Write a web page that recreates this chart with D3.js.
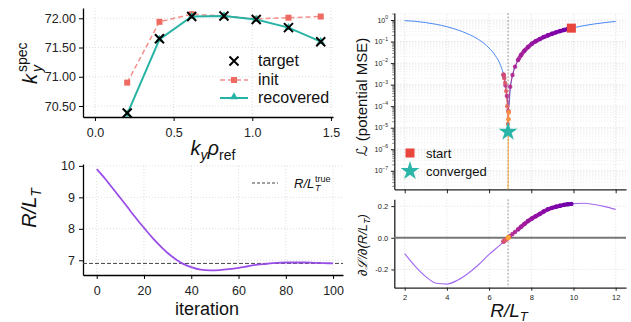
<!DOCTYPE html>
<html>
<head>
<meta charset="utf-8">
<script src="https://cdn.jsdelivr.net/npm/d3@7"></script>
<style>
  body { margin: 0; background: #fff; }
  text { font-family: "Liberation Sans", Arial, sans-serif; }
</style>
</head>
<body>
<svg id="fig" width="631" height="322"></svg>
<script>
// ---- top-left: spectrum fit ----
const kyRho = [0.205, 0.41, 0.615, 0.82, 1.025, 1.23, 1.435];
const kyTarget = [70.38, 71.65, 72.03, 72.04, 71.98, 71.84, 71.60];
const kyInit = [70.90, 71.94, 72.07, 72.04, 71.99, 72.01, 72.03];
const kyRecovered = [70.36, 71.64, 72.03, 72.04, 71.98, 71.84, 71.60];

// ---- optimisation trajectory ----
const iters = [0, 2, 4, 6, 8, 10, 12, 14, 16, 18, 20, 22, 24, 26, 28, 30, 32, 34, 36, 38, 40,
  44, 48, 52, 56, 60, 64, 68, 72, 76, 80, 84, 88, 92, 96, 100];
const rlt = [9.90, 9.73, 9.55, 9.36, 9.17, 8.98, 8.79, 8.59, 8.40, 8.21, 8.03, 7.85, 7.68, 7.52, 7.37,
  7.23, 7.11, 7.00, 6.91, 6.84, 6.78, 6.70, 6.68, 6.69, 6.72, 6.76, 6.81, 6.86, 6.89, 6.92,
  6.93, 6.93, 6.93, 6.92, 6.91, 6.90];
const trajLoss = [0.42, 0.385, 0.345, 0.305, 0.268, 0.23, 0.195, 0.162, 0.13, 0.103, 0.08, 0.056,
  0.038, 0.024, 0.0138, 0.0068, 0.0028, 0.0008, 0.00006, 0.0003, 0.0009, 0.0025, 0.003, 0.0028,
  0.002, 0.0012, 0.0005, 0.0001, 0.000015, 0.000025, 0.000056, 0.000056, 0.00005, 0.000025,
  0.000006, 1e-9];
const trajGrad = [0.214, 0.212, 0.208, 0.202, 0.196, 0.189, 0.18, 0.166, 0.15, 0.136, 0.122, 0.106,
  0.088, 0.07, 0.053, 0.037, 0.024, 0.011, 0.001, -0.007, -0.013, -0.022, -0.024, -0.023, -0.02,
  -0.015, -0.01, -0.004, -0.001, 0.002, 0.003, 0.003, 0.003, 0.002, 0.001, 0];
const rltTrue = 6.9;
const startPt = { x: 9.9, loss: 0.42 };
const convergedPt = { x: 6.9, loss: 0.0000065 };

// ---- loss landscape scan ----
const scanX = [2.0, 2.5, 3.0, 3.5, 4.0, 4.5, 5.0, 5.5, 6.0, 6.3, 6.5, 6.6, 6.7, 6.8, 6.85, 6.94,
  7.0, 7.1, 7.2, 7.3, 7.5, 7.75, 8.0, 8.5, 9.0, 9.5, 10.0, 10.5, 11.0, 11.5, 12.0];
const scanLoss = [0.94, 0.87, 0.76, 0.63, 0.49, 0.35, 0.225, 0.125, 0.05, 0.022, 0.01, 0.0056,
  0.0025, 0.0007, 0.0003, 0.0001, 0.0006, 0.0025, 0.0056, 0.01, 0.0225, 0.045, 0.076, 0.146,
  0.234, 0.334, 0.44, 0.55, 0.66, 0.76, 0.86];
const gradX = [2, 2.5, 3, 3.5, 4, 4.5, 5, 5.5, 6, 6.5, 7, 7.5, 8, 8.5, 9, 9.5, 10, 10.5, 11, 11.5, 12];
const gradVal = [-0.10, -0.18, -0.245, -0.287, -0.292, -0.268, -0.225, -0.17, -0.105, -0.048, 0.011,
  0.068, 0.12, 0.16, 0.19, 0.207, 0.216, 0.218, 0.21, 0.197, 0.179];

const MATH = '"DejaVu Sans", sans-serif';
const svg = d3.select('#fig');

function styleAxis(g, size, color) {
  g.attr('font-family', '"Liberation Sans", Arial, sans-serif').attr('font-size', size);
  g.select('.domain').attr('stroke', color).attr('stroke-width', 1.3);
  g.selectAll('.tick line').attr('stroke', color);
  g.selectAll('.tick text').attr('fill', '#222');
}

function drawGrid(g, x, y, xt, yt, color) {
  g.selectAll(null).data(xt).enter().append('line')
    .attr('x1', d => x(d)).attr('x2', d => x(d))
    .attr('y1', y.range()[0]).attr('y2', y.range()[1])
    .attr('stroke', color || '#d6d6d6').attr('stroke-width', 0.8).attr('stroke-dasharray', '1,2');
  g.selectAll(null).data(yt).enter().append('line')
    .attr('y1', d => y(d)).attr('y2', d => y(d))
    .attr('x1', x.range()[0]).attr('x2', x.range()[1])
    .attr('stroke', color || '#d6d6d6').attr('stroke-width', 0.8).attr('stroke-dasharray', '1,2');
}

// =============== panel A ===============
const xA = d3.scaleLinear([-0.076, 1.513], [83, 333]);
const yA = d3.scaleLinear([70.312, 72.176], [117, 8]);
const gA = svg.append('g');
drawGrid(gA, xA, yA, [0, 0.5, 1, 1.5], [70.5, 71, 71.5, 72]);
gA.append('g').attr('transform', 'translate(0,117)')
  .call(d3.axisBottom(xA).tickValues([0, 0.5, 1, 1.5]).tickFormat(d3.format('.1f'))
    .tickSize(4).tickSizeOuter(0).tickPadding(7))
  .call(styleAxis, 12.5, '#000');
gA.append('g').attr('transform', 'translate(83,0)')
  .call(d3.axisLeft(yA).tickValues([70.5, 71, 71.5, 72]).tickFormat(d3.format('.2f'))
    .tickSize(4).tickSizeOuter(0).tickPadding(3))
  .call(styleAxis, 12.5, '#000');

const lineA = d3.line().x((d, i) => xA(kyRho[i])).y(d => yA(d));
gA.append('path').datum(kyInit).attr('d', lineA).attr('fill', 'none')
  .attr('stroke', '#f4908a').attr('stroke-width', 1.5).attr('stroke-dasharray', '5,3');
gA.selectAll('.initpt').data(kyInit).enter().append('rect')
  .attr('x', (d, i) => xA(kyRho[i]) - 3).attr('y', d => yA(d) - 3)
  .attr('width', 6).attr('height', 6).attr('fill', '#ee6a62');
gA.append('path').datum(kyRecovered).attr('d', lineA).attr('fill', 'none')
  .attr('stroke', '#27b3a4').attr('stroke-width', 2);
gA.selectAll('.recpt').data(kyRecovered).enter().append('path')
  .attr('d', d3.symbol(d3.symbolTriangle, 28))
  .attr('transform', (d, i) => `translate(${xA(kyRho[i])},${yA(d)})`).attr('fill', '#27b3a4');
const xMark = 'M-4.5,-4.5L4.5,4.5M-4.5,4.5L4.5,-4.5';
gA.selectAll('.tgt').data(kyTarget).enter().append('path')
  .attr('d', xMark).attr('transform', (d, i) => `translate(${xA(kyRho[i])},${yA(d)})`)
  .attr('stroke', '#000').attr('stroke-width', 2);

// legend A
const legA = gA.append('g');
legA.append('path').attr('d', xMark).attr('transform', 'translate(234,61)')
  .attr('stroke', '#000').attr('stroke-width', 2);
legA.append('line').attr('x1', 220).attr('x2', 248).attr('y1', 80).attr('y2', 80)
  .attr('stroke', '#f4908a').attr('stroke-width', 1.5).attr('stroke-dasharray', '5,3');
legA.append('rect').attr('x', 231).attr('y', 77).attr('width', 6).attr('height', 6).attr('fill', '#ee6a62');
legA.append('line').attr('x1', 220).attr('x2', 248).attr('y1', 98).attr('y2', 98)
  .attr('stroke', '#27b3a4').attr('stroke-width', 2);
legA.append('path').attr('d', d3.symbol(d3.symbolTriangle, 28)).attr('transform', 'translate(234,97)')
  .attr('fill', '#27b3a4');
[['target', 66], ['init', 85], ['recovered', 103]].forEach(([t, yy]) =>
  legA.append('text').attr('x', 258).attr('y', yy).attr('font-size', 16).attr('fill', '#111').text(t));

// labels A
const labA = svg.append('g').attr('transform', 'translate(37,84) rotate(-90)');
const tA = labA.append('text').attr('font-family', MATH).attr('fill', '#111');
tA.append('tspan').attr('font-size', 20).attr('font-style', 'italic').text('k');
tA.append('tspan').attr('x', 12).attr('y', 5).attr('font-size', 14).attr('font-style', 'italic').text('y');
tA.append('tspan').attr('x', 12).attr('y', -10).attr('font-size', 14).text('spec');

const xlabA = svg.append('text').attr('x', 213).attr('y', 155).attr('text-anchor', 'middle')
  .attr('font-family', MATH).attr('fill', '#111');
xlabA.append('tspan').attr('font-size', 20).attr('font-style', 'italic').text('k');
xlabA.append('tspan').attr('font-size', 14).attr('font-style', 'italic').attr('dy', 5).text('y');
xlabA.append('tspan').attr('font-size', 20).attr('font-style', 'italic').attr('dy', -5).text('ρ');
xlabA.append('tspan').attr('font-size', 14).attr('dy', 5).text('ref');

// =============== panel B ===============
const xB = d3.scaleLinear([-5.8, 104.2], [83, 343]);
const yB = d3.scaleLinear([6.532, 10.06], [275, 164]);
const gB = svg.append('g');
drawGrid(gB, xB, yB, [0, 20, 40, 60, 80, 100], [7, 8, 9, 10]);
gB.append('g').attr('transform', 'translate(0,275)')
  .call(d3.axisBottom(xB).tickValues([0, 20, 40, 60, 80, 100]).tickSize(4).tickSizeOuter(0).tickPadding(7))
  .call(styleAxis, 12.5, '#000');
gB.append('g').attr('transform', 'translate(83,0)')
  .call(d3.axisLeft(yB).tickValues([7, 8, 9, 10]).tickFormat(d3.format('d')).tickSize(4).tickSizeOuter(0).tickPadding(4))
  .call(styleAxis, 12.5, '#000');
gB.append('line').attr('x1', 83).attr('x2', 343).attr('y1', yB(rltTrue)).attr('y2', yB(rltTrue))
  .attr('stroke', '#444').attr('stroke-width', 1).attr('stroke-dasharray', '4,2');
gB.append('path').datum(rlt)
  .attr('d', d3.line().curve(d3.curveMonotoneX).x((d, i) => xB(iters[i])).y(d => yB(d)))
  .attr('fill', 'none').attr('stroke', '#9a4ee8').attr('stroke-width', 1.8);

gB.append('line').attr('x1', 252).attr('x2', 278).attr('y1', 183).attr('y2', 183)
  .attr('stroke', '#444').attr('stroke-width', 1).attr('stroke-dasharray', '3,2');
const legB = gB.append('text').attr('x', 294).attr('y', 188).attr('font-family', MATH).attr('fill', '#111');
legB.append('tspan').attr('font-size', 13).attr('font-style', 'italic').text('R/L');
legB.append('tspan').attr('x', 315).attr('y', 191).attr('font-size', 9).attr('font-style', 'italic').text('T');
legB.append('tspan').attr('x', 315).attr('y', 182).attr('font-size', 9).text('true');

const labB = svg.append('text').attr('transform', 'translate(36,208) rotate(-90)')
  .attr('text-anchor', 'middle').attr('font-family', MATH).attr('fill', '#111');
labB.append('tspan').attr('font-size', 20).attr('font-style', 'italic').text('R/L');
labB.append('tspan').attr('font-size', 14).attr('font-style', 'italic').attr('dy', 5).text('T');
svg.append('text').attr('x', 207).attr('y', 315).attr('text-anchor', 'middle')
  .attr('font-size', 18).attr('fill', '#111').text('iteration');

// =============== panel C (loss, log) ===============
const xC = d3.scaleLinear([1.507, 12.49], [394.3, 626]);
const yC = d3.scaleLog([Math.pow(10, -7.86), Math.pow(10, 0.326)], [189.3, 13]);
const gC = svg.append('g');
const minorC = [];
for (let k = -8; k <= 0; k++) for (let m = 2; m <= 9; m++) {
  const v = m * Math.pow(10, k);
  if (v > yC.domain()[0] && v < yC.domain()[1]) minorC.push(v);
}
const decadesC = d3.range(-7, 1).map(k => Math.pow(10, k));
drawGrid(gC, xC, yC, [2, 4, 6, 8, 10, 12], decadesC, '#d0d0d0');
drawGrid(gC, xC, yC, [], minorC, '#e6e6e6');

gC.append('g').attr('transform', 'translate(0,189.3)')
  .call(d3.axisBottom(xC).tickValues([2, 4, 6, 8, 10, 12]).tickFormat('').tickSize(4).tickSizeOuter(0))
  .call(styleAxis, 7.5, '#222');
gC.append('g').attr('transform', 'translate(394.3,0)')
  .call(d3.axisLeft(yC).tickValues(decadesC).tickFormat('').tickSize(3.5).tickSizeOuter(0))
  .call(styleAxis, 7.5, '#222');
gC.append('g').attr('transform', 'translate(394.3,0)')
  .call(d3.axisLeft(yC).tickValues(minorC).tickFormat('').tickSize(2).tickSizeOuter(0))
  .call(g => g.select('.domain').remove())
  .call(g => g.selectAll('.tick line').attr('stroke', '#222').attr('stroke-width', 0.6));
decadesC.forEach(v => {
  const k = Math.round(Math.log10(v));
  const t = gC.append('text').attr('x', 388).attr('y', yC(v) + 2.5).attr('text-anchor', 'end')
    .attr('fill', '#222');
  t.append('tspan').attr('font-size', 7).text('10');
  t.append('tspan').attr('font-size', 5).attr('dy', -3.5).text(k === 0 ? '0' : '\u2212' + (-k));
});

svg.append('clipPath').attr('id', 'clipC').append('rect')
  .attr('x', 394.3).attr('y', 13).attr('width', 231.7).attr('height', 176.3);
const plotC = gC.append('g').attr('clip-path', 'url(#clipC)');
plotC.append('line').attr('x1', xC(rltTrue)).attr('x2', xC(rltTrue)).attr('y1', 13).attr('y2', 189.3)
  .attr('stroke', '#999').attr('stroke-width', 1).attr('stroke-dasharray', '2,1.5');
plotC.append('path').datum(scanLoss)
  .attr('d', d3.line().curve(d3.curveMonotoneX).x((d, i) => xC(scanX[i])).y(d => yC(d)))
  .attr('fill', 'none').attr('stroke', '#4a88f2').attr('stroke-width', 1);

// dense early steps merge into a thick band, later steps are single points
const trajColor = i => d3.interpolatePlasma(0.2 + 0.6 * iters[i] / 100);
const segWidth = i => (iters[i + 1] <= 28 ? 4 : 1);
for (let i = 0; i < rlt.length - 1; i++) {
  plotC.append('line')
    .attr('x1', xC(rlt[i])).attr('y1', yC(trajLoss[i]))
    .attr('x2', xC(rlt[i + 1])).attr('y2', yC(trajLoss[i + 1]))
    .attr('stroke', trajColor(i + 1)).attr('stroke-width', segWidth(i))
    .attr('stroke-linecap', 'round').attr('opacity', 0.9);
}
plotC.selectAll('.tc').data(trajLoss).enter().append('circle')
  .attr('cx', (d, i) => xC(rlt[i])).attr('cy', d => yC(d)).attr('r', 2.2)
  .attr('fill', (d, i) => trajColor(i)).attr('opacity', 0.9);
plotC.append('rect').attr('x', xC(startPt.x) - 4.5).attr('y', yC(startPt.loss) - 4.5)
  .attr('width', 9).attr('height', 9).attr('fill', '#e8453c');
plotC.append('path').attr('d', d3.symbol(d3.symbolStar, 110))
  .attr('transform', `translate(${xC(convergedPt.x)},${yC(convergedPt.loss)})`).attr('fill', '#2ab5a8');

// legend C
gC.append('rect').attr('x', 405.5).attr('y', 148.5).attr('width', 9).attr('height', 9).attr('fill', '#e8453c');
gC.append('path').attr('d', d3.symbol(d3.symbolStar, 110)).attr('transform', 'translate(410,171)')
  .attr('fill', '#2ab5a8');
gC.append('text').attr('x', 426).attr('y', 158).attr('font-size', 13).attr('fill', '#111').text('start');
gC.append('text').attr('x', 426).attr('y', 175.5).attr('font-size', 13).attr('fill', '#111').text('converged');

const labC = svg.append('text').attr('transform', 'translate(367,97) rotate(-90)')
  .attr('text-anchor', 'middle').attr('fill', '#111');
labC.append('tspan').attr('font-family', MATH).attr('font-size', 15).attr('font-style', 'italic').text('\u2112');
labC.append('tspan').attr('font-size', 15).text(' (potential MSE)');

// =============== panel D (gradient) ===============
const xD = d3.scaleLinear([1.507, 12.49], [394.3, 626]);
const yD = d3.scaleLinear([-0.315, 0.243], [287.7, 199.3]);
const gD = svg.append('g');
drawGrid(gD, xD, yD, [2, 4, 6, 8, 10, 12], [-0.2, 0, 0.2]);
gD.append('g').attr('transform', 'translate(0,287.7)')
  .call(d3.axisBottom(xD).tickValues([2, 4, 6, 8, 10, 12]).tickSize(3).tickSizeOuter(0).tickPadding(4))
  .call(styleAxis, 7.5, '#222');
gD.append('g').attr('transform', 'translate(394.3,0)')
  .call(d3.axisLeft(yD).tickValues([-0.2, 0, 0.2]).tickFormat(d3.format('.1f')).tickSize(3).tickSizeOuter(0).tickPadding(3))
  .call(styleAxis, 7.5, '#222');
gD.selectAll('.tick text').text(function () { return this.textContent.replace('−', '-'); });
gD.append('line').attr('x1', 394.3).attr('x2', 626).attr('y1', yD(0)).attr('y2', yD(0))
  .attr('stroke', '#777').attr('stroke-width', 2);
gD.append('line').attr('x1', xD(rltTrue)).attr('x2', xD(rltTrue)).attr('y1', 199.3).attr('y2', 287.7)
  .attr('stroke', '#999').attr('stroke-width', 1).attr('stroke-dasharray', '2,1.5');
gD.append('path').datum(gradVal)
  .attr('d', d3.line().curve(d3.curveMonotoneX).x((d, i) => xD(gradX[i])).y(d => yD(d)))
  .attr('fill', 'none').attr('stroke', '#a56cf0').attr('stroke-width', 1.2);
for (let i = 0; i < rlt.length - 1; i++) {
  if (segWidth(i) < 2) continue;
  gD.append('line')
    .attr('x1', xD(rlt[i])).attr('y1', yD(trajGrad[i]))
    .attr('x2', xD(rlt[i + 1])).attr('y2', yD(trajGrad[i + 1]))
    .attr('stroke', trajColor(i + 1)).attr('stroke-width', 4)
    .attr('stroke-linecap', 'round').attr('opacity', 0.9);
}
gD.selectAll('.td').data(trajGrad).enter().append('circle')
  .attr('cx', (d, i) => xD(rlt[i])).attr('cy', d => yD(d)).attr('r', 2.2)
  .attr('fill', (d, i) => trajColor(i)).attr('opacity', 0.9);

const labD = svg.append('text').attr('transform', 'translate(367,245) rotate(-90)')
  .attr('text-anchor', 'middle').attr('font-family', MATH).attr('fill', '#111');
labD.append('tspan').attr('font-size', 13).attr('font-style', 'italic').text('\u2202\u2112/\u2202(R/L');
labD.append('tspan').attr('font-size', 9).attr('font-style', 'italic').attr('dy', 3).text('T');
labD.append('tspan').attr('font-size', 13).attr('font-style', 'italic').attr('dy', -3).text(')');

const xlabD = svg.append('text').attr('x', 509).attr('y', 317).attr('text-anchor', 'middle')
  .attr('font-family', MATH).attr('fill', '#111');
xlabD.append('tspan').attr('font-size', 19).attr('font-style', 'italic').text('R/L');
xlabD.append('tspan').attr('font-size', 13).attr('font-style', 'italic').attr('dy', 3.5).text('T');
</script>
</body>
</html>
